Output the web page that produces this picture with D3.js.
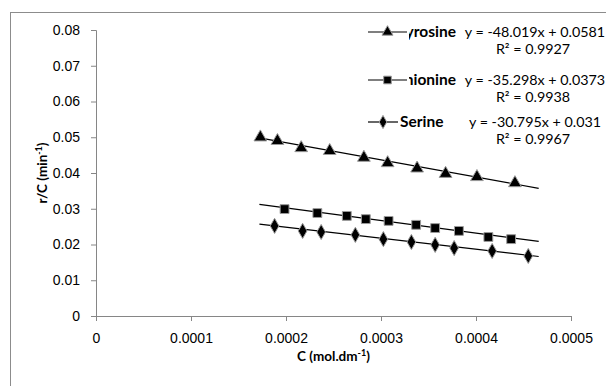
<!DOCTYPE html>
<html lang="en">
<head>
  <meta charset="utf-8">
  <title>r/C vs C</title>
  <script src="https://d3js.org/d3.v7.min.js"></script>
  <style>
    body { margin: 0; background: #fff; }
    svg { display: block; font-family: Lato, "Open Sans", sans-serif; }
    .axis path, .axis line { stroke: #868686; }
    .axis text { fill: #000; font-size: 14px; }
    .title { font-weight: bold; font-size: 13.5px; }
    .trend { fill: none; stroke: #000; stroke-width: 1.2px; }
    .mark { fill: #000; stroke: #9a9a9a; stroke-width: 1px; }
    .leg text { font-size: 14.3px; }
    .leg .name { font-size: 15.5px; font-weight: bold; }
  </style>
</head>
<body>
<svg width="606" height="386"></svg>
<script>

// series (C in mol.dm-1, r/C in min-1)
var tyrosineX = [0.000173, 0.000191, 0.000216, 0.000246, 0.000282, 0.000307, 0.000338, 0.000368, 0.000401, 0.000441];
var tyrosineY = [0.0500, 0.0490, 0.0470, 0.0462, 0.0443, 0.0428, 0.0413, 0.0398, 0.0389, 0.0372];

var methionineX = [0.0001985, 0.000233, 0.000264, 0.000284, 0.000308, 0.000337, 0.000357, 0.000382, 0.000413, 0.000437];
var methionineY = [0.0299, 0.0288, 0.0280, 0.0271, 0.0266, 0.0255, 0.0246, 0.0238, 0.0221, 0.0215];

var serineX = [0.000188, 0.0002175, 0.000237, 0.000273, 0.0003025, 0.000332, 0.000357, 0.000377, 0.000417, 0.000455];
var serineY = [0.0252, 0.0238, 0.0235, 0.0227, 0.0215, 0.0207, 0.0199, 0.0190, 0.0182, 0.0168];

// linear trendlines as printed on the chart
var names = ["Tyrosine", "Methionine", "Serine"];
var slopes = [-48.019, -35.298, -30.795];
var intercepts = [0.0581, 0.0373, 0.031];
var r2 = ["0.9927", "0.9938", "0.9967"];
var eqLabels = ["y = -48.019x + 0.0581", "y = -35.298x + 0.0373", "y = -30.795x + 0.031"];
var trendRange = [0.000172, 0.000466];

var xTicks = [0, 0.0001, 0.0002, 0.0003, 0.0004, 0.0005];
var yTicks = [0, 0.01, 0.02, 0.03, 0.04, 0.05, 0.06, 0.07, 0.08];

var svg = d3.select("svg"),
    margin = {top: 30, right: 35, bottom: 70, left: 96},
    width = svg.attr("width") - margin.left - margin.right,
    height = svg.attr("height") - margin.top - margin.bottom;

// outer chart frame, runs off the right and bottom of the picture
svg.append("rect")
    .attr("x", 10.5).attr("y", 12.5)
    .attr("width", 700).attr("height", 500)
    .attr("fill", "none").attr("stroke", "#8c8c8c");

var g = svg.append("g").attr("transform", "translate(" + margin.left + "," + margin.top + ")");

var x = d3.scaleLinear().domain([0, 0.0005]).range([0, width]),
    y = d3.scaleLinear().domain([0, 0.08]).range([height, 0]);

g.append("g")
    .attr("class", "axis")
    .attr("transform", "translate(0," + height + ")")
    .call(d3.axisBottom(x).tickValues(xTicks).tickSize(5).tickSizeOuter(5).tickPadding(12)
      .tickFormat(function(d) { return d === 0 ? "0" : d3.format(".4f")(d); }));

g.append("g")
    .attr("class", "axis")
    .call(d3.axisLeft(y).tickValues(yTicks).tickSize(5).tickSizeOuter(5).tickPadding(11)
      .tickFormat(function(d) { return d === 0 ? "0" : d3.format(".2f")(d); }));

// axis titles
var xt = g.append("text")
    .attr("class", "title")
    .attr("x", width / 2).attr("y", height + 45)
    .attr("text-anchor", "middle")
    .text("C (mol.dm");
xt.append("tspan").attr("dy", -5).attr("font-size", 9).text("-1");
xt.append("tspan").attr("dy", 5).text(")");

var yt = g.append("text")
    .attr("class", "title")
    .attr("transform", "translate(-49," + (height / 2) + ") rotate(-90)")
    .attr("text-anchor", "middle")
    .text("r/C (min");
yt.append("tspan").attr("dy", -5).attr("font-size", 9).text("-1");
yt.append("tspan").attr("dy", 5).text(")");

var series = [
  {x: tyrosineX, y: tyrosineY, symbol: d3.symbolTriangle, size: 70},
  {x: methionineX, y: methionineY, symbol: d3.symbolSquare, size: 78},
  {x: serineX, y: serineY, symbol: d3.symbolDiamond, size: 66}
];

series.forEach(function(s, i) {
  g.append("line")
      .attr("class", "trend")
      .attr("x1", x(trendRange[0])).attr("y1", y(slopes[i] * trendRange[0] + intercepts[i]))
      .attr("x2", x(trendRange[1])).attr("y2", y(slopes[i] * trendRange[1] + intercepts[i]));

  g.selectAll(".m" + i)
    .data(d3.range(s.x.length))
    .enter().append("path")
      .attr("class", "mark m" + i)
      .attr("transform", function(j) { return "translate(" + x(s.x[j]) + "," + y(s.y[j]) + ")"; })
      .attr("d", d3.symbol().type(s.symbol).size(s.size));
});

// legend with the trendline labels laid over it
var rowY = [32, 80, 122];
var leg = svg.append("g").attr("class", "leg");

names.forEach(function(name, i) {
  var row = leg.append("g").attr("transform", "translate(0," + rowY[i] + ")");
  var label = row.append("text")
      .attr("class", "name")
      .attr("dy", "0.35em")
      .text(name);
  // names too long for the legend box overflow to the left and get cut by the key
  var wide = label.node().getComputedTextLength() > 50;
  var keyEnd = wide ? 407 : 398;
  label.attr("x", wide ? 456 : 400).attr("text-anchor", wide ? "end" : "start");

  var clipId = "clip" + i;
  row.append("clipPath").attr("id", clipId)
    .append("rect").attr("x", keyEnd + 2).attr("y", -12).attr("width", 460 - keyEnd - 2).attr("height", 24);
  label.attr("clip-path", "url(#" + clipId + ")");

  row.append("line")
      .attr("x1", 368).attr("x2", keyEnd)
      .attr("stroke", "#000").attr("stroke-width", 1.2);
  row.append("path")
      .attr("class", "mark")
      .attr("transform", "translate(" + ((368 + keyEnd) / 2) + ",0)")
      .attr("d", d3.symbol().type(series[i].symbol).size(series[i].size * 0.75));

  row.append("text")
      .attr("x", 535).attr("dy", "0.35em")
      .attr("text-anchor", "middle")
      .text(eqLabels[i]);
  row.append("text")
      .attr("x", 533).attr("y", 17).attr("dy", "0.35em")
      .attr("text-anchor", "middle")
      .text("R\u00b2 = " + r2[i]);
});

</script>
</body>
</html>
